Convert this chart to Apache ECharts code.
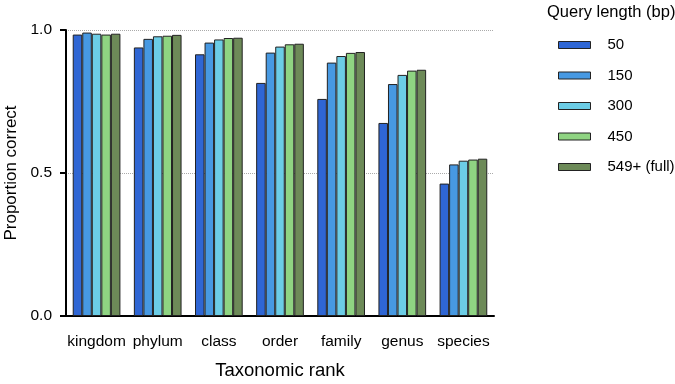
<!DOCTYPE html>
<html>
<head>
	<meta charset="utf-8">
	<title>Proportion correct by taxonomic rank</title>
	<script src="https://cdn.jsdelivr.net/npm/echarts@6/dist/echarts.min.js"></script>
	<style type="text/css">
		* { margin: 0; padding: 0; }
		body { width: 675px; height: 384px; overflow: hidden; background: #fff; }
		#main { width: 675px; height: 384px; }
	</style>
</head>
<body>
<div id="main"></div>
<script type="text/javascript">
    // data
    var ranks = ['kingdom', 'phylum', 'class', 'order', 'family', 'genus', 'species'];
    var lengths = ['50', '150', '300', '450', '549+ (full)'];
    var q50 = [0.984, 0.939, 0.915, 0.815, 0.759, 0.675, 0.463];
    var q150 = [0.991, 0.969, 0.956, 0.921, 0.886, 0.811, 0.530];
    var q300 = [0.987, 0.978, 0.967, 0.942, 0.909, 0.843, 0.543];
    var q450 = [0.984, 0.980, 0.972, 0.950, 0.920, 0.858, 0.547];
    var qFull = [0.987, 0.983, 0.973, 0.952, 0.923, 0.861, 0.550];
    var yTicks = [0, 0.5, 1.0];

    var colorL = ['#2f66d4', '#4799e2', '#6ccde6', '#8fd482', '#6d8a58'];
    var allData = [q50, q150, q300, q450, qFull];
    var font = 'Liberation Sans, Arial, sans-serif';

    var myChart = echarts.init(document.getElementById('main'));

    var series = [];
    for (var i = 0; i < lengths.length; i++) {
        series.push({
            name: lengths[i],
            type: 'bar',
            data: allData[i],
            barGap: '0%',
            barCategoryGap: '22%',
            itemStyle: {
                color: colorL[i],
                borderColor: '#222',
                borderWidth: 1
            }
        });
    }

    var option = {
        animation: false,
        title: {
            text: 'Query length (bp)',
            left: 547,
            top: 4,
            padding: 0,
            textStyle: { fontFamily: font, fontSize: 16.5, fontWeight: 'normal', color: '#000' }
        },
        legend: {
            orient: 'vertical',
            left: 558,
            top: 37,
            padding: 0,
            icon: 'rect',
            itemWidth: 32,
            itemHeight: 7,
            itemGap: 14.5,
            selectedMode: false,
            itemStyle: { borderColor: '#222', borderWidth: 1 },
            textStyle: { fontFamily: font, fontSize: 15, lineHeight: 16, color: '#000', padding: [0, 0, 0, 12] },
            data: lengths
        },
        grid: {
            left: 66,
            right: 181,
            top: 30,
            bottom: 68,
            outerBoundsMode: 'none'
        },
        xAxis: {
            type: 'category',
            data: ranks,
            name: 'Taxonomic rank',
            nameLocation: 'middle',
            nameGap: 45,
            nameTextStyle: { fontFamily: font, fontSize: 18.5, color: '#000' },
            axisLine: { lineStyle: { color: '#000', width: 2 } },
            axisTick: { alignWithLabel: true, length: 11, lineStyle: { color: '#000', width: 2 } },
            axisLabel: { interval: 0, fontFamily: font, fontSize: 15.5, color: '#000', margin: 18 }
        },
        yAxis: {
            type: 'value',
            min: 0,
            max: 1,
            interval: 0.5,
            name: 'Proportion correct',
            nameLocation: 'middle',
            nameGap: 44,
            nameTextStyle: { fontFamily: font, fontSize: 17, color: '#000' },
            axisLine: { show: true, lineStyle: { color: '#000', width: 2 } },
            axisTick: { show: true, length: 6, lineStyle: { color: '#000', width: 2 } },
            axisLabel: {
                fontFamily: font, fontSize: 15.5, color: '#000', margin: 14,
                formatter: function (v) { return yTicks.indexOf(v) >= 0 ? v.toFixed(1) : ''; }
            },
            splitLine: { show: true, lineStyle: { color: '#aaa', type: 'dotted', width: 1 } }
        },
        series: series
    };
    myChart.setOption(option);
</script>
</body>
</html>
